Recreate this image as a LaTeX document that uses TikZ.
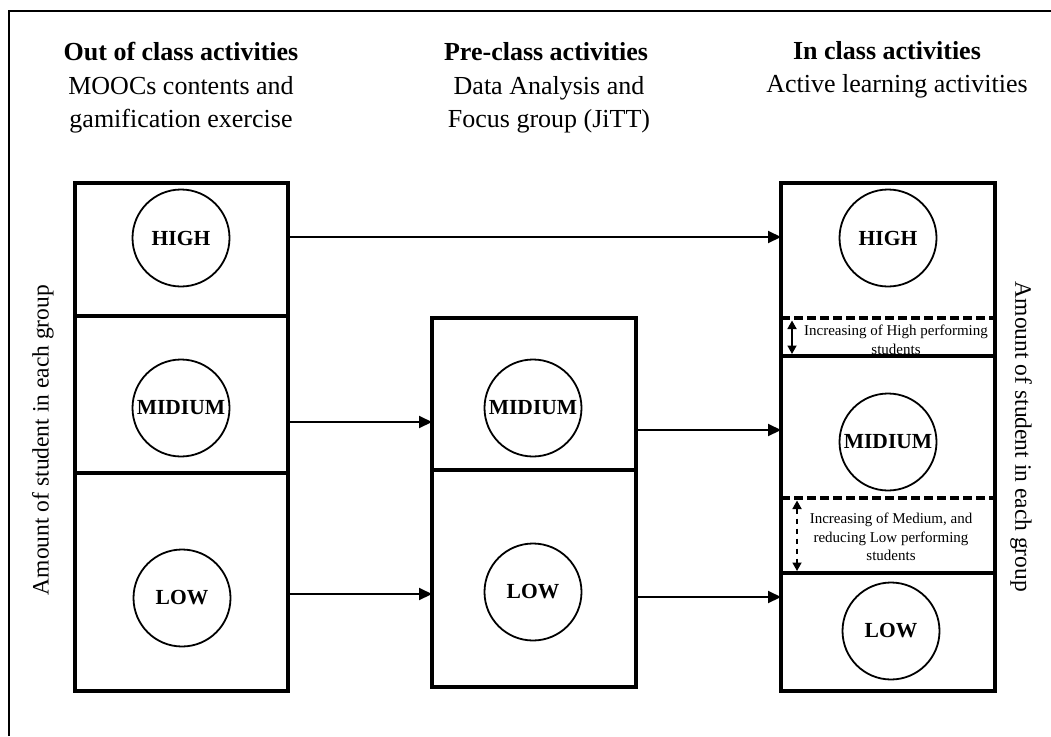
\documentclass[tikz,border=0pt]{standalone}
\usepackage{fontspec}
\setmainfont{Liberation Serif}
\usetikzlibrary{arrows.meta}
\begin{document}
\begin{tikzpicture}[x=1pt,y=-1pt,
  every node/.style={inner sep=0pt, outer sep=0pt},
  grpbox/.style={draw, rectangle, line width=3.1pt},
  level/.style={draw, circle, line width=1.8pt, minimum size=97pt,
    font=\fontsize{21.5}{24}\selectfont\bfseries},
  flow/.style={-{Triangle[length=13pt,width=12pt]}, line width=2pt},
  twoway/.style={{Triangle[length=8.5pt,width=9pt]}-{Triangle[length=8.5pt,width=9pt]}, line width=1.7pt},
  divider/.style={line width=3.1pt},
  dashdiv/.style={line width=3.1pt, dash pattern=on 9pt off 4pt},
  title/.style={anchor=base, font=\fontsize{26}{33}\selectfont},
  note/.style={align=center, font=\fontsize{15}{18.5}\selectfont},
  sidelabel/.style={font=\fontsize{23.5}{28}\selectfont}]

\useasboundingbox (0,0) rectangle (1051,736);
\fill[white] (0,0) rectangle (1051,736);

% outer frame (continues past the right and bottom edges)
\draw[line width=2.2pt] (9,736) -- (9,11) -- (1051,11);

% column headings
\node[title] (outT1) at (181,60) {\bfseries Out of class activities};
\node[title] (outT2) at (181,94) {MOOCs contents and};
\node[title] (outT3) at (181,127) {gamification exercise};
\node[title] (preT1) at (546,60) {\bfseries Pre-class activities};
\node[title] (preT2) at (549,94) {Data Analysis and};
\node[title] (preT3) at (549,127) {Focus group (JiTT)};
\node[title] (inT1) at (887,59) {\bfseries In class activities};
\node[title] (inT2) at (897,92) {Active learning activities};

% group boxes
\node[grpbox, minimum width=213pt, minimum height=508pt] (outbox) at (181.5,437) {};
\node[grpbox, minimum width=204pt, minimum height=369pt] (prebox) at (534,502.5) {};
\node[grpbox, minimum width=214pt, minimum height=508pt] (inbox) at (888,437) {};

% dividers of the out-of-class box
\draw[divider] (outbox.west |- 0,316) -- (outbox.east |- 0,316);
\draw[divider] (outbox.west |- 0,473) -- (outbox.east |- 0,473);
% divider of the pre-class box
\draw[divider] (prebox.west |- 0,470) -- (prebox.east |- 0,470);
% dividers of the in-class box
\coordinate (hiTop) at (inbox.west |- 0,318);
\coordinate (hiBot) at (inbox.west |- 0,356);
\coordinate (loTop) at (inbox.west |- 0,498);
\coordinate (loBot) at (inbox.west |- 0,573);
\draw[dashdiv] (hiTop) -- (inbox.east |- hiTop);
\draw[divider] (hiBot) -- (inbox.east |- hiBot);
\draw[dashdiv] (loTop) -- (inbox.east |- loTop);
\draw[divider] (loBot) -- (inbox.east |- loBot);

% performance levels
\node[level] (outHigh) at (181,238) {HIGH};
\node[level] (outMid) at (181,408) {MIDIUM};
\node[level] (outLow) at (182,598) {LOW};
\node[level] (preMid) at (533,408) {MIDIUM};
\node[level] (preLow) at (533,592) {LOW};
\node[level] (inHigh) at (888,238) {HIGH};
\node[level] (inMid) at (888,442) {MIDIUM};
\node[level] (inLow) at (891,631) {LOW};

% flows between the stages
\draw[flow] (outbox.east |- 0,237) -- (inbox.west |- 0,237);
\draw[flow] (outbox.east |- 0,422) -- (prebox.west |- 0,422);
\draw[flow] (prebox.east |- 0,430) -- (inbox.west |- 0,430);
\draw[flow] (outbox.east |- 0,594) -- (prebox.west |- 0,594);
\draw[flow] (prebox.east |- 0,597) -- (inbox.west |- 0,597);

% changes in group size
\draw[twoway] ([xshift=11pt,yshift=-2.5pt]hiTop) -- ([xshift=11pt,yshift=2pt]hiBot);
\node[note] (hiNote) at (896,340) {Increasing of High performing\\students};
\draw[twoway, dash pattern=on 5pt off 5pt] ([xshift=16pt,yshift=-2.5pt]loTop) -- ([xshift=16pt,yshift=2pt]loBot);
\node[note] (loNote) at (891,537) {Increasing of Medium, and\\reducing Low performing\\students};

% axis labels
\node[sidelabel, rotate=90] (leftAxis) at (43,440) {Amount of student in each group};
\node[sidelabel, rotate=-90] (rightAxis) at (1021,437) {Amount of student in each group};
\end{tikzpicture}
\end{document}
